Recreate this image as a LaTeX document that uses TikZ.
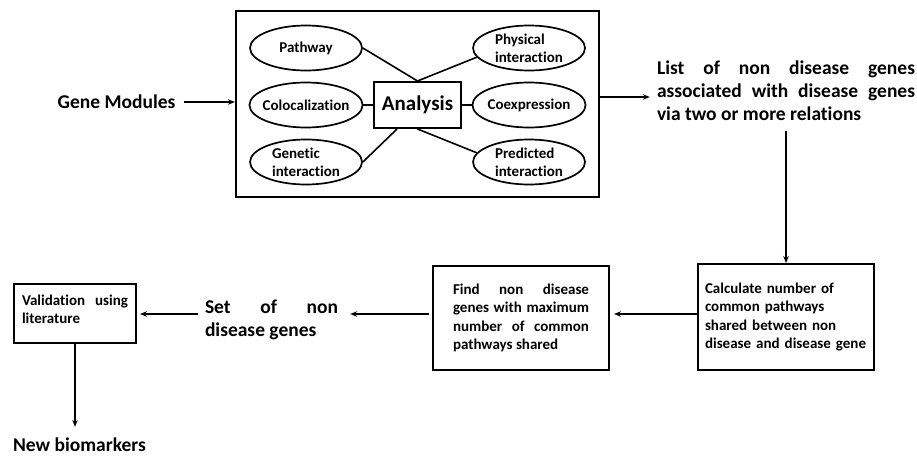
\documentclass[tikz,border=0pt]{standalone}
\usepackage{fontspec}
\setmainfont{Carlito}[Ligatures=NoCommon]
\usetikzlibrary{shapes.geometric,arrows.meta,calc}
\begin{document}
\begin{tikzpicture}[x=1pt,y=-1pt,
  every node/.style={font=\bfseries},
  ell/.style={draw,line width=1.7pt,ellipse,minimum width=112pt,minimum height=45pt,inner sep=0pt,align=left,font=\bfseries\fontsize{15}{18}\selectfont},
  box/.style={draw,line width=2pt,rectangle,inner sep=0pt,font=\bfseries\fontsize{15}{18.5}\selectfont},
  big/.style={font=\bfseries\fontsize{19.5}{23}\selectfont,inner sep=0pt},
  arr/.style={line width=1.6pt,-{Stealth[length=7pt,width=5.5pt]}},
  link/.style={line width=1.6pt}]
\useasboundingbox (0,0) rectangle (917,455);

% frame and inner analysis graph
\node[draw,line width=2.2pt,minimum width=363pt,minimum height=186pt,inner sep=0pt] (frame) at (417.5,104) {};
\node[ell] (pw) at (306,48) {Pathway};
\node[ell] (co) at (306,105) {\makebox[80pt]{Colocalization}};
\node[ell] (gi) at (306,162) {Genetic\\interaction};
\node[ell] (ph) at (529,48) {Physical\\interaction};
\node[ell] (ce) at (529,105) {\makebox[80pt]{Coexpression}};
\node[ell] (pi) at (529,162) {Predicted\\interaction};
\node[draw,line width=2pt,minimum width=87pt,minimum height=46pt,inner sep=0pt,font=\bfseries\fontsize{21}{24}\selectfont] (ana) at (417.5,105) {Analysis};

\draw[link] (pw.east) -- (ana.north);
\draw[link] (ana.north) -- (ph.190);
\draw[link] (co.east) -- (ana.west);
\draw[link] (ana.east) -- (ce.west);
\draw[link] (gi.east) -- ($(ana.south west)!0.27!(ana.south east)$);
\draw[link] (ana.south) -- (pi.170);

% outer flow
\node[big] (gm) at (116.5,102) {Gene Modules};
\draw[arr,shorten <=8pt] (gm.east) -- (frame.west |- gm.east);

\node[big,text width=258pt,align=justify] (lst) at (786,91)
  {List of non disease genes\break associated with disease genes\break via two or more relations};
\draw[arr] ([yshift=7pt]frame.east) -- ([xshift=-7pt,yshift=-6pt]lst.west);

\node[box,minimum width=176pt,minimum height=106pt,text width=162pt,align=left] (calc) at (786,317)
  {Calculate number of\\common pathways\\shared between non\\disease and disease gene};
\draw[arr] ([yshift=-10pt]lst.south) -- (calc.north);

\node[box,minimum width=176pt,minimum height=104pt,text width=136pt,align=justify] (find) at (521,318)
  {Find non disease\break genes with maximum\break number of common\break pathways shared};
\draw[arr] ([yshift=3pt]calc.west) -- ([xshift=4pt,yshift=4pt]find.east);

\node[big,text width=133pt,align=justify] (set) at (271.5,320) {Set of non\break disease genes};
\draw[arr] ([xshift=-3pt,yshift=4pt]find.west) -- ([xshift=12pt,yshift=6pt]set.east);

\node[box,minimum width=122pt,minimum height=59pt,text width=106pt,align=justify] (val) at (75,313.5)
  {Validation using\break literature\rule[-9pt]{0pt}{9pt}};
\draw[arr] ([xshift=-7pt,yshift=6pt]set.west) -- ([xshift=3pt,yshift=-0.5pt]val.east);

\node[big] (nb) at (79.5,445) {New biomarkers};
\draw[arr,shorten >=11pt] (val.south) -- (val.south |- nb.north);
\end{tikzpicture}
\end{document}
